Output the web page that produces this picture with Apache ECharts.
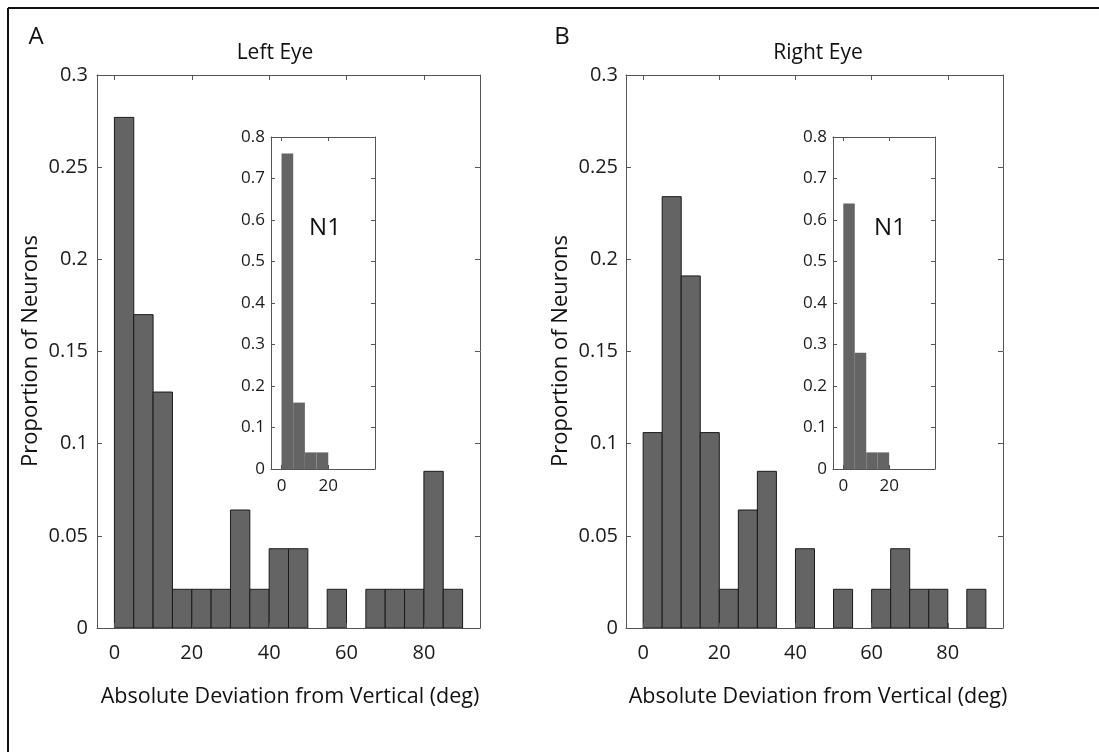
<!DOCTYPE html>
<html>
<head>
<meta charset="utf-8">
<script src="https://cdn.jsdelivr.net/npm/echarts@6/dist/echarts.min.js"></script>
<style>
html, body { margin: 0; padding: 0; background: #fff; }
#main { width: 1099px; height: 752px; }
</style>
</head>
<body>
<div id="main"></div>
<script>
// histogram bins (deg), width 5
var binStarts = [0, 5, 10, 15, 20, 25, 30, 35, 40, 45, 50, 55, 60, 65, 70, 75, 80, 85];
var binWidth = 5;
// proportion of neurons per bin
var leftEye = [0.277, 0.170, 0.128, 0.021, 0.021, 0.021, 0.064, 0.021, 0.043, 0.043, 0, 0.021, 0, 0.021, 0.021, 0.021, 0.085, 0.021];
var rightEye = [0.106, 0.234, 0.191, 0.106, 0.021, 0.064, 0.085, 0, 0.043, 0, 0.021, 0, 0.021, 0.043, 0.021, 0.021, 0, 0.021];
// N1 insets
var insetBinStarts = [0, 5, 10, 15];
var leftEyeN1 = [0.76, 0.16, 0.04, 0.04];
var rightEyeN1 = [0.64, 0.28, 0.04, 0.04];
// tick labels
var mainXTicks = [0, 20, 40, 60, 80];
var insetXTicks = [0, 20];

var FONT = "'Open Sans', 'Noto Sans', sans-serif";
var axisColor = "#555";
var textColor = "#1a1a1a";
var barColor = "#646464";

function toBins(starts, vals) {
  var out = [];
  for (var i = 0; i < starts.length; i++) {
    out.push([starts[i], starts[i] + binWidth, vals[i]]);
  }
  return out;
}

function xPair(g, min, max, ticks, size, margin, tickLen) {
  var tick = { inside: true, length: tickLen, customValues: ticks, lineStyle: { color: axisColor } };
  var base = {
    gridIndex: g, type: "value", min: min, max: max, z: 3,
    splitLine: { show: false },
    axisLine: { show: true, onZero: false, lineStyle: { color: axisColor, width: 1 } },
  };
  return [
    Object.assign({}, base, {
      position: "bottom", axisTick: tick,
      axisLabel: { customValues: ticks, margin: margin, fontSize: size, fontFamily: FONT, color: textColor },
    }),
    Object.assign({}, base, { position: "top", axisTick: tick, axisLabel: { show: false } }),
  ];
}

function yPair(g, max, interval, size, margin, tickLen) {
  var tick = { inside: true, length: tickLen, lineStyle: { color: axisColor } };
  var base = {
    gridIndex: g, type: "value", min: 0, max: max, interval: interval, z: 3,
    splitLine: { show: false },
    axisLine: { show: true, onZero: false, lineStyle: { color: axisColor, width: 1 } },
  };
  return [
    Object.assign({}, base, {
      position: "left", axisTick: tick,
      axisLabel: { margin: margin, fontSize: size, fontFamily: FONT, color: textColor },
    }),
    Object.assign({}, base, { position: "right", axisTick: tick, axisLabel: { show: false } }),
  ];
}

function histSeries(g, data, stroke) {
  return {
    type: "custom",
    xAxisIndex: 2 * g,
    yAxisIndex: 2 * g,
    z: 2,
    data: data,
    renderItem: function (params, api) {
      var v = api.value(2);
      if (!v) return null;
      var p0 = api.coord([api.value(0), v]);
      var p1 = api.coord([api.value(1), 0]);
      return {
        type: "rect",
        shape: { x: p0[0], y: p0[1], width: p1[0] - p0[0], height: p1[1] - p0[1] },
        style: { fill: barColor, stroke: stroke, lineWidth: stroke ? 1 : 0 },
      };
    },
  };
}

function label(text, x, y, size, rot) {
  return {
    type: "text", x: x, y: y, rotation: rot || 0, z: 10,
    style: { text: text, fontSize: size, fontFamily: FONT, fill: "#111", align: "center", verticalAlign: "middle" },
  };
}

var chart = echarts.init(document.getElementById("main"));
chart.setOption({
  animation: false,
  backgroundColor: "#fff",
  grid: [
    { left: 97, top: 75, width: 383, height: 553 },
    { left: 626, top: 75, width: 377, height: 553 },
    { left: 271, top: 137, width: 104, height: 332 },
    { left: 833, top: 137, width: 102, height: 332 },
  ],
  xAxis: [].concat(
    xPair(0, -4.5, 94.5, mainXTicks, 20, 15, 5),
    xPair(1, -4.5, 94.5, mainXTicks, 20, 15, 5),
    xPair(2, -4.5, 40, insetXTicks, 17, 9, 4),
    xPair(3, -4.5, 40, insetXTicks, 17, 9, 4)
  ),
  yAxis: [].concat(
    yPair(0, 0.3, 0.05, 20, 9, 5),
    yPair(1, 0.3, 0.05, 20, 8, 5),
    yPair(2, 0.8, 0.1, 17, 6, 4),
    yPair(3, 0.8, 0.1, 17, 6, 4)
  ),
  series: [
    histSeries(0, toBins(binStarts, leftEye), "#1a1a1a"),
    histSeries(1, toBins(binStarts, rightEye), "#1a1a1a"),
    histSeries(2, toBins(insetBinStarts, leftEyeN1), null),
    histSeries(3, toBins(insetBinStarts, rightEyeN1), null),
  ],
  graphic: [
    { type: "line", shape: { x1: 8, y1: 8, x2: 1099, y2: 8 }, style: { stroke: "#111", lineWidth: 2 } },
    { type: "line", shape: { x1: 8, y1: 8, x2: 8, y2: 752 }, style: { stroke: "#111", lineWidth: 2 } },
    label("A", 36, 37, 24),
    label("B", 562, 37, 24),
    label("Left Eye", 275, 53, 21),
    label("Right Eye", 818, 53, 21),
    label("Proportion of Neurons", 31, 351, 22, Math.PI / 2),
    label("Proportion of Neurons", 561, 351, 22, Math.PI / 2),
    label("Absolute Deviation from Vertical (deg)", 290, 697, 21.5),
    label("Absolute Deviation from Vertical (deg)", 818, 697, 21.5),
    label("N1", 325, 228, 24),
    label("N1", 890, 228, 24),
  ],
});
</script>
</body>
</html>
